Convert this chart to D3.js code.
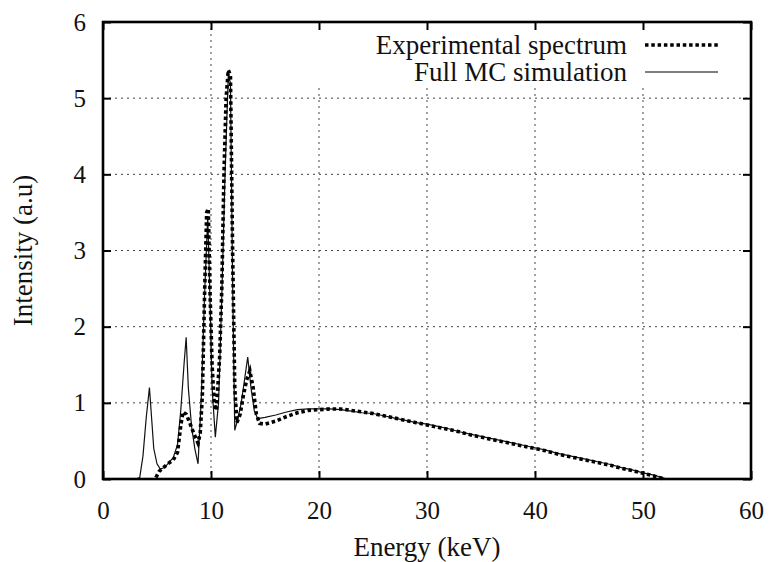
<!DOCTYPE html>
<html><head><script src="https://d3js.org/d3.v7.min.js"></script></head>
<body style="margin:0">
<svg width="770" height="562"></svg>
<script>
// experimental spectrum
var energyExp = [4.9, 5.2, 5.6, 6.0, 6.5, 6.9, 7.2, 7.4, 7.7, 8.0, 8.4, 8.8, 9.0, 9.2, 9.4, 9.6, 9.75, 9.9, 10.1, 10.3, 10.5,
  10.8, 11.0, 11.2, 11.4, 11.6, 11.8, 12.0, 12.2, 12.4, 12.7, 13.0, 13.3, 13.6, 13.9, 14.2, 14.5, 15, 16, 17, 18, 19,
  20, 21, 22, 23, 24, 25, 26, 27, 28, 29, 30, 31, 32, 33, 34, 35, 36, 37, 38, 39, 40, 41, 42, 43, 44, 45, 46, 47, 48,
  49, 50, 51, 52];
var intensityExp = [0.02, 0.1, 0.15, 0.2, 0.25, 0.35, 0.7, 0.88, 0.85, 0.75, 0.6, 0.47, 0.6, 1.1, 2.4, 3.5, 3.55, 2.5, 1.5,
  1.0, 0.9, 1.6, 2.5, 4.0, 5.0, 5.37, 5.3, 3.0, 1.2, 0.74, 0.85, 1.1, 1.3, 1.42, 1.2, 0.85, 0.73, 0.72, 0.76, 0.82, 0.87,
  0.9, 0.91, 0.92, 0.92, 0.9, 0.88, 0.86, 0.83, 0.8, 0.77, 0.74, 0.71, 0.68, 0.65, 0.62, 0.58, 0.55, 0.52, 0.49, 0.46,
  0.43, 0.40, 0.37, 0.33, 0.3, 0.27, 0.24, 0.21, 0.18, 0.14, 0.11, 0.075, 0.04, 0.0];

// full MC simulation
var energySim = [3.0, 3.4, 3.7, 4.0, 4.3, 4.5, 4.7, 5.0, 5.3, 5.7, 6.0, 6.5, 6.9, 7.2, 7.5, 7.7, 7.9, 8.2, 8.5, 8.8, 9.1,
  9.4, 9.7, 9.9, 10.1, 10.4, 10.7, 11.0, 11.3, 11.6, 11.8, 12.0, 12.2, 12.5, 12.8, 13.1, 13.4, 13.7, 14.0, 14.3, 14.6,
  15, 16, 17, 18, 19, 20, 21, 22, 23, 24, 25, 26, 27, 28, 29, 30, 31, 32, 33, 34, 35, 36, 37, 38, 39, 40, 41, 42, 43,
  44, 45, 46, 47, 48, 49, 50, 51, 52, 52.5];
var intensitySim = [0, 0.02, 0.3, 0.8, 1.2, 0.8, 0.4, 0.2, 0.13, 0.15, 0.2, 0.28, 0.45, 0.9, 1.5, 1.86, 1.2, 0.69, 0.4,
  0.2, 1.06, 2.4, 3.45, 2.4, 1.2, 0.55, 1.0, 2.4, 4.0, 5.3, 5.2, 2.6, 0.64, 0.8, 1.0, 1.3, 1.6, 1.2, 0.9, 0.8, 0.8,
  0.81, 0.84, 0.88, 0.91, 0.92, 0.92, 0.92, 0.91, 0.89, 0.87, 0.86, 0.83, 0.8, 0.77, 0.74, 0.72, 0.69, 0.66, 0.62, 0.59,
  0.56, 0.53, 0.5, 0.47, 0.44, 0.41, 0.38, 0.34, 0.31, 0.28, 0.25, 0.22, 0.19, 0.15, 0.12, 0.08, 0.05, 0.01, 0];

var xTicks = [0, 10, 20, 30, 40, 50, 60];
var yTicks = [0, 1, 2, 3, 4, 5, 6];
var seriesNames = ["Experimental spectrum", "Full MC simulation"];

var face = "'Times New Roman'";

function serifText(sel, size) {
  sel.style("font-family", face)
    .style("font-size", size + "px")
    .attr("fill", "#111");
}

var svg = d3.select("svg"),
    margin = {top: 22, right: 19, bottom: 83, left: 103},
    width = +svg.attr("width") - margin.left - margin.right,
    height = +svg.attr("height") - margin.top - margin.bottom,
    g = svg.append("g").attr("transform", "translate(" + margin.left + "," + margin.top + ")");

var x = d3.scaleLinear().domain([0, 60]).range([0, width]);
var y = d3.scaleLinear().domain([0, 6]).range([height, 0]);

function gridStyle(sel) {
  sel.attr("stroke", "#444").attr("stroke-width", 1).attr("stroke-dasharray", "2,4");
}

// grid
g.append("g")
  .selectAll("line").data(xTicks.slice(1, -1)).enter().append("line")
    .attr("x1", x).attr("x2", x).attr("y1", 0).attr("y2", height)
    .call(gridStyle);
g.append("g")
  .selectAll("line").data(yTicks.slice(1, -1)).enter().append("line")
    .attr("y1", y).attr("y2", y).attr("x1", 0).attr("x2", width)
    .call(gridStyle);

// opaque key box
g.append("rect")
  .attr("x", 202).attr("y", 0)
  .attr("width", width - 202).attr("height", 63)
  .attr("fill", "#fff");

var exp = energyExp.map(function(e, i) { return [e, intensityExp[i]]; });
var sim = energySim.map(function(e, i) { return [e, intensitySim[i]]; });

var line = d3.line()
  .x(function(d) { return x(d[0]); })
  .y(function(d) { return y(d[1]); });

g.append("path").datum(sim)
  .attr("d", line)
  .attr("fill", "none")
  .attr("stroke", "#111")
  .attr("stroke-width", 1.2);

g.append("path").datum(exp)
  .attr("d", line)
  .attr("fill", "none")
  .attr("stroke", "#000")
  .attr("stroke-width", 3.6)
  .attr("stroke-dasharray", "3.5,2.8");

// axes (ticks inside, mirrored)
function axisStyle(a, withText) {
  a.attr("font-family", null).attr("font-size", null);
  a.select(".domain").remove();
  a.selectAll("line").attr("stroke", "#000").attr("stroke-width", 2);
  if (withText) a.selectAll("text").call(serifText, 25);
}

g.append("g")
  .attr("transform", "translate(0," + height + ")")
  .call(d3.axisBottom(x).tickValues(xTicks).tickSize(-8).tickPadding(22).tickFormat(d3.format("d")))
  .call(axisStyle, true);
g.append("g")
  .call(d3.axisTop(x).tickValues(xTicks).tickSize(-8).tickFormat(""))
  .call(axisStyle, false);
g.append("g")
  .call(d3.axisLeft(y).tickValues(yTicks).tickSize(-8).tickPadding(17).tickFormat(d3.format("d")))
  .call(axisStyle, true);
g.append("g")
  .attr("transform", "translate(" + width + ",0)")
  .call(d3.axisRight(y).tickValues(yTicks).tickSize(-8).tickFormat(""))
  .call(axisStyle, false);

g.append("rect")
  .attr("width", width).attr("height", height)
  .attr("fill", "none").attr("stroke", "#000").attr("stroke-width", 2.6);

// axis titles
svg.append("text")
  .attr("x", margin.left + width / 2).attr("y", 556)
  .attr("text-anchor", "middle")
  .call(serifText, 27)
  .text("Energy (keV)");
svg.append("text")
  .attr("transform", "translate(32," + (margin.top + height / 2) + ") rotate(-90)")
  .attr("text-anchor", "middle")
  .call(serifText, 27)
  .text("Intensity (a.u)");

// key
var key = svg.append("g").selectAll("g").data(seriesNames).enter().append("g")
  .attr("transform", function(d, i) { return "translate(0," + (45 + i * 27) + ")"; });
key.append("text")
  .attr("x", 627).attr("dy", "0.33em")
  .attr("text-anchor", "end")
  .call(serifText, 27)
  .text(function(d) { return d; });
key.append("line")
  .attr("x1", 645).attr("x2", 718)
  .attr("stroke", "#000")
  .attr("stroke-width", function(d, i) { return i === 0 ? 3.6 : 1.2; })
  .attr("stroke-dasharray", function(d, i) { return i === 0 ? "3.5,2.8" : null; });
</script>
</body>
</html>
